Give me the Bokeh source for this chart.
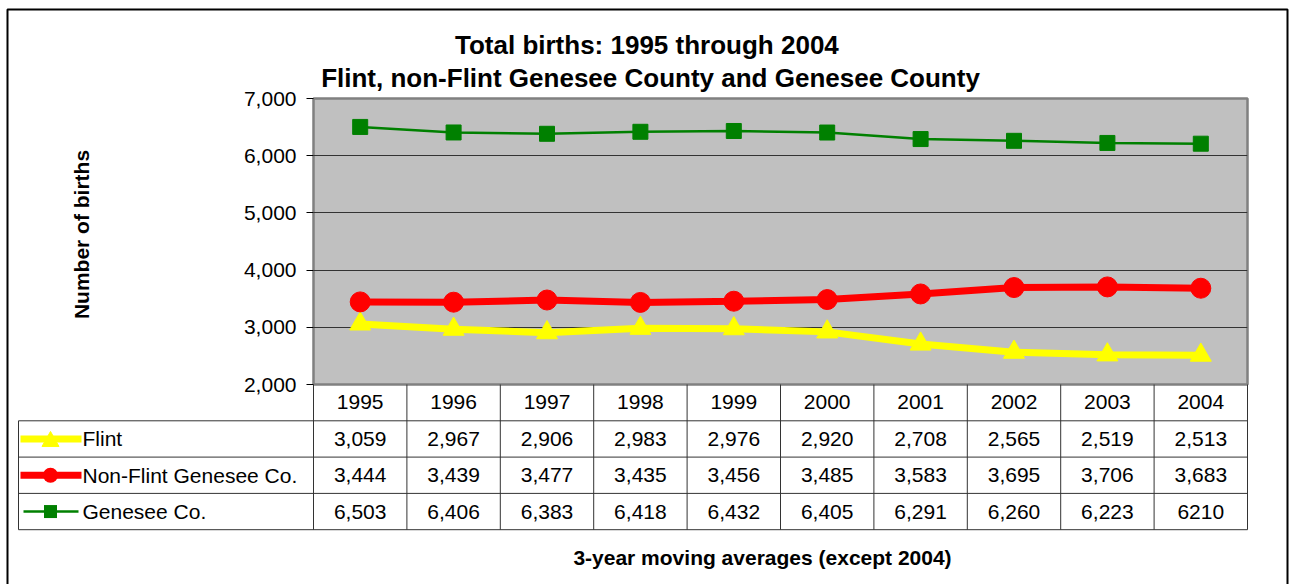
import math
from bokeh.plotting import figure
from bokeh.models import Range1d, FactorRange, FixedTicker, NumeralTickFormatter, ColumnDataSource
from bokeh.core.properties import value
from bokeh.embed import file_html
from bokeh.resources import INLINE

# ---------------- data ----------------
years = ["1995", "1996", "1997", "1998", "1999", "2000", "2001", "2002", "2003", "2004"]
flint = [3059, 2967, 2906, 2983, 2976, 2920, 2708, 2565, 2519, 2513]
nonflint = [3444, 3439, 3477, 3435, 3456, 3485, 3583, 3695, 3706, 3683]
genesee = [6503, 6406, 6383, 6418, 6432, 6405, 6291, 6260, 6223, 6210]
flint_labels = ["3,059", "2,967", "2,906", "2,983", "2,976", "2,920", "2,708", "2,565", "2,519", "2,513"]
nonflint_labels = ["3,444", "3,439", "3,477", "3,435", "3,456", "3,485", "3,583", "3,695", "3,706", "3,683"]
genesee_labels = ["6,503", "6,406", "6,383", "6,418", "6,432", "6,405", "6,291", "6,260", "6,223", "6210"]
series_names = ["Flint", "Non-Flint Genesee Co.", "Genesee Co."]
y_ticks = [2000, 3000, 4000, 5000, 6000, 7000]
title_lines = ["Total births:  1995 through 2004",
               "Flint, non-Flint Genesee County and Genesee County"]
y_title = "Number of births"
x_title = "3-year moving averages (except 2004)"

# ---------------- layout / style ----------------
FONT = "Liberation Sans"
W, H = 1289, 584
FL, FR, FT, FB = 313, 1247, 98, 384      # frame edges, canvas px
ROW = 36.3                                # table row height, px
COL = (FR - FL) / len(years)


def ux(cx):          # canvas px -> synthetic x coordinate
    return (cx - FL) / COL


def uy(cy):          # canvas px -> table row units (downwards)
    return (cy - FB) / ROW


YELLOW, RED, GREEN = "#FFFF00", "#FF0000", "#008000"
LINEC = "#333333"

p = figure(width=W, height=H, output_backend="svg", toolbar_location=None,
           x_range=FactorRange(factors=years), y_range=Range1d(2000, 7000),
           min_border_left=FL, min_border_right=W - FR,
           min_border_top=FT, min_border_bottom=H - FB)
p.extra_y_ranges = {"tbl": Range1d(start=0, end=uy(FT))}

p.background_fill_color = "#C0C0C0"
p.border_fill_color = "white"
p.outline_line_color = "#808080"
p.outline_line_width = 2.5

# y axis
ya = p.yaxis[0]
ya.ticker = FixedTicker(ticks=y_ticks)
ya.formatter = NumeralTickFormatter(format="0,0")
ya.axis_line_color = None
ya.major_tick_out = 7
ya.major_tick_in = 0
ya.major_tick_line_color = "black"
ya.minor_tick_line_color = None
ya.major_label_standoff = 10
ya.major_label_text_font = FONT
ya.major_label_text_font_size = "21px"
ya.major_label_text_color = "black"

# x axis (years = header row of the data table)
xa = p.xaxis[0]
xa.axis_line_color = None
xa.major_tick_line_color = None
xa.minor_tick_line_color = None
xa.major_tick_out = 0
xa.major_tick_in = 0
xa.major_label_standoff = 10
xa.major_label_text_font = FONT
xa.major_label_text_font_size = "21px"
xa.major_label_text_color = "black"

p.xgrid.grid_line_color = None
p.ygrid.ticker = FixedTicker(ticks=y_ticks)
p.ygrid.grid_line_color = LINEC
p.ygrid.grid_line_width = 1

# ---------------- series ----------------
src = ColumnDataSource(dict(year=years, flint=flint, nonflint=nonflint, genesee=genesee))
p.line("year", "flint", source=src, line_color=YELLOW, line_width=7)
p.scatter("year", "flint", source=src, marker="triangle", size=21,
          fill_color=YELLOW, line_color=YELLOW)
p.line("year", "nonflint", source=src, line_color=RED, line_width=7)
p.scatter("year", "nonflint", source=src, marker="circle", size=20,
          fill_color=RED, line_color=RED)
p.line("year", "genesee", source=src, line_color=GREEN, line_width=2.5)
p.scatter("year", "genesee", source=src, marker="square", size=15,
          fill_color=GREEN, line_color=GREEN)

# ---------------- data table ----------------
n = len(years)
leg_left = ux(18)
hy = [1, 2, 3, 4]
p.segment(x0=[leg_left] * 4, y0=hy, x1=[n] * 4, y1=hy, y_range_name="tbl",
          line_color=LINEC, line_width=1, level="overlay")
vx = [leg_left] + list(range(0, n + 1))
vy0 = [1] + [0] * (n + 1)
vy1 = [4] * (n + 2)
p.segment(x0=vx, y0=vy0, x1=vx, y1=vy1, y_range_name="tbl",
          line_color=LINEC, line_width=1, level="overlay")

tx, ty, tt = [], [], []
for r, labs in enumerate([flint_labels, nonflint_labels, genesee_labels]):
    for i, t in enumerate(labs):
        tx.append(i + 0.5)
        ty.append(r + 1.5)
        tt.append(t)
p.text(x=tx, y=ty, text=tt, y_range_name="tbl", level="overlay",
       text_align="center", text_baseline="middle",
       text_font=value(FONT), text_font_size="21px", text_color="black")

# legend keys in the first column of the table
ly = [1.5, 2.5, 3.5]
kx = 50                      # key centre, px
p.segment(x0=[ux(20), ux(20), ux(23)], y0=ly, x1=[ux(81), ux(81), ux(78)], y1=ly,
          y_range_name="tbl", line_color=[YELLOW, RED, GREEN], line_width=[7, 7, 2.5],
          level="overlay")
# triangle key
cy0 = FB + ly[0] * ROW
p.patch(x=[ux(kx - 8.5), ux(kx + 8.5), ux(kx)],
        y=[uy(cy0 + 7.5), uy(cy0 + 7.5), uy(cy0 - 7.5)],
        y_range_name="tbl", fill_color=YELLOW, line_color=YELLOW, line_width=1,
        level="overlay")
# circle key (round-capped dot)
p.segment(x0=[ux(kx - 0.05)], y0=[ly[1]], x1=[ux(kx + 0.05)], y1=[ly[1]],
          y_range_name="tbl", line_color=RED, line_width=15, line_cap="round",
          level="overlay")
# square key
p.segment(x0=[ux(kx - 6.5)], y0=[ly[2]], x1=[ux(kx + 6.5)], y1=[ly[2]],
          y_range_name="tbl", line_color=GREEN, line_width=13, line_cap="butt",
          level="overlay")
p.text(x=[ux(82)] * 3, y=ly, text=series_names, y_range_name="tbl", level="overlay",
       text_align="left", text_baseline="middle",
       text_font=value(FONT), text_font_size="21px", text_color="black")

# ---------------- titles ----------------
p.text(x=[ux(650)] * 2, y=[uy(44), uy(77)], text=title_lines, y_range_name="tbl",
       level="overlay", text_align="center", text_baseline="middle",
       text_font=value(FONT), text_font_size="26px", text_font_style="bold",
       text_color="black")
p.text(x=[ux(81)], y=[uy(234)], text=[y_title], y_range_name="tbl", angle=math.pi / 2,
       level="overlay", text_align="center", text_baseline="middle",
       text_font=value(FONT), text_font_size="21px", text_font_style="bold",
       text_color="black")
p.text(x=[ux(762)], y=[uy(557)], text=[x_title], y_range_name="tbl",
       level="overlay", text_align="center", text_baseline="middle",
       text_font=value(FONT), text_font_size="21px", text_font_style="bold",
       text_color="black")

# outer border
p.quad(left=[ux(7)], right=[ux(1287)], top=[uy(9)], bottom=[uy(H + 30)],
       y_range_name="tbl", fill_color=None, line_color="black", line_width=2,
       level="overlay")

open("out.html", "w").write(file_html(p, INLINE))
